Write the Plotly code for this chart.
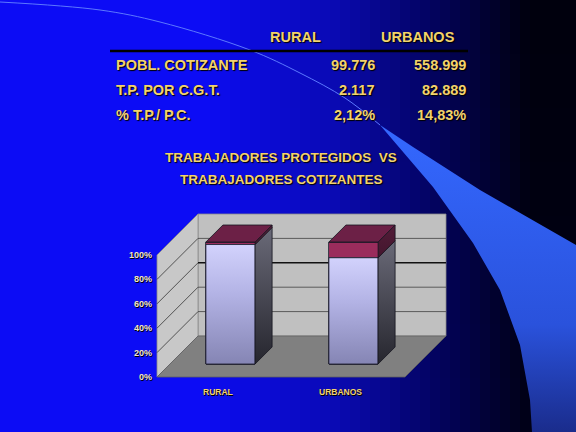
import plotly.graph_objects as go

# ---- data ----
categories = ["RURAL", "URBANOS"]
pobl_cotizante = [99776, 558999]
tp_por_cgt = [2117, 82889]
row_labels = ["POBL. COTIZANTE", "T.P. POR C.G.T.", "% T.P./ P.C."]
pct_ticks = [0, 20, 40, 60, 80, 100]
title_lines = ["TRABAJADORES PROTEGIDOS  VS", "TRABAJADORES COTIZANTES"]

W, H = 576, 432
YELLOW = "#f2d36b"
TICK_COL = "#f3e6c4"

# main axes: x in category units, y in percent (front plane of the bars)
X0PX, UNIT_X = 230.5, 123.0   # px of category 0, px per category
Y0PX, UNIT_Y = 364.0, 1.22    # px of 0 %, px per percent
BAR_W = 0.4
DEPTH = 17        # bar depth (px, drawn at 45 deg)
Z_FRONT, Z_BACK = -13, 28
XL, XR = (170 - X0PX) / UNIT_X, (418 - X0PX) / UNIT_X


def proj(x, y, z):
    return x + z / UNIT_X, y + z / UNIT_Y


def path(pts):
    return "M " + " L ".join(f"{a},{b}" for a, b in pts) + " Z"


def num_es(v):
    return f"{v:,}".replace(",", ".")


def pct_es(v):
    return f"{v:.2f}%".replace(".", ",")


def face(pts, colorscale, edge="#15151f"):
    pts = pts + [pts[0]]
    return go.Scatter(x=[a for a, _ in pts], y=[b for _, b in pts], fill="toself", mode="lines",
                      fillgradient=dict(type="vertical", colorscale=colorscale),
                      line=dict(color=edge, width=0.8), hoverinfo="skip", showlegend=False)


shapes = []

# background gradient (bright blue left -> black right)
def bg_color(x, y):
    d = max(0.0, min(1.0, (x - 200) / 330)) * (1 - 0.03 * y / H)
    stops = [(0, (12, 12, 245)), (0.4, (10, 10, 180)), (0.7, (3, 3, 95)), (1, (0, 0, 12))]
    for (d0, c0), (d1, c1) in zip(stops, stops[1:]):
        if d <= d1:
            t = (d - d0) / (d1 - d0)
            c = [round(a + (b - a) * t) for a, b in zip(c0, c1)]
            return f"rgb({c[0]},{c[1]},{c[2]})"
    return "rgb(0,0,12)"

shapes.append(dict(type="rect", xref="paper", yref="paper", x0=0, x1=210 / W, y0=0, y1=1,
                   fillcolor=bg_color(0, 0), line_width=0, layer="below"))
step_x, step_y = 10, 54
for cx in range(200, W, step_x):
    for cy in range(0, H, step_y):
        shapes.append(dict(type="rect", xref="paper", yref="paper",
                           x0=cx / W, x1=min(W, cx + step_x + 1) / W,
                           y0=1 - min(H, cy + step_y + 1) / H, y1=1 - cy / H,
                           fillcolor=bg_color(cx + step_x / 2, cy + step_y / 2),
                           line_width=0, layer="below"))

# 3d box: back wall, left wall, floor
shapes.append(dict(type="path", xref="x", yref="y", layer="below",
                   path=path([proj(XL, 0, Z_BACK), proj(XR, 0, Z_BACK), proj(XR, 100, Z_BACK), proj(XL, 100, Z_BACK)]),
                   fillcolor="#c0c0c0", line=dict(color="#8a8a8a", width=0.8)))
shapes.append(dict(type="path", xref="x", yref="y", layer="below",
                   path=path([proj(XL, 0, Z_FRONT), proj(XL, 100, Z_FRONT), proj(XL, 100, Z_BACK), proj(XL, 0, Z_BACK)]),
                   fillcolor="#c8c8c8", line=dict(color="#8a8a8a", width=0.8)))
shapes.append(dict(type="path", xref="x", yref="y", layer="below",
                   path=path([proj(XL, 0, Z_FRONT), proj(XR, 0, Z_FRONT), proj(XR, 0, Z_BACK), proj(XL, 0, Z_BACK)]),
                   fillcolor="#808080", line=dict(color="#606060", width=0.8)))
for p in pct_ticks[1:-1]:
    x0, y0 = proj(XL, p, Z_BACK)
    x1, y1 = proj(XR, p, Z_BACK)
    dark = p == 60
    shapes.append(dict(type="line", xref="x", yref="y", layer="below", x0=x0, y0=y0, x1=x1, y1=y1,
                       line=dict(color="#101010" if dark else "#5a5a5a", width=1.6 if dark else 1)))
    fx, fy = proj(XL, p, Z_FRONT)
    shapes.append(dict(type="line", xref="x", yref="y", layer="below", x0=fx, y0=fy, x1=x0, y1=y0,
                       line=dict(color="#202020", width=0.7)))

# table header rule
shapes.append(dict(type="line", xref="paper", yref="paper", x0=110 / W, x1=468 / W,
                   y0=1 - 51 / H, y1=1 - 51 / H, line=dict(color="#000000", width=2.5)))

fig = go.Figure()

# front faces of the 100% stacked columns
fig.add_trace(go.Bar(x=[0, 1], y=pobl_cotizante, width=BAR_W, name="POBL. COTIZANTE",
                     marker=dict(color="#b2b2e2", line=dict(color="#1c1c2c", width=0.8)),
                     hoverinfo="skip"))
fig.add_trace(go.Bar(x=[0, 1], y=tp_por_cgt, width=BAR_W, name="T.P. POR C.G.T.",
                     marker=dict(color="#9a2c5c", line=dict(color="#1c1c2c", width=0.8)),
                     hoverinfo="skip"))

# shading of the front face plus side and top faces, built from the same values
for i, (pc, tp) in enumerate(zip(pobl_cotizante, tp_por_cgt)):
    share_pc = pc / (pc + tp) * 100
    xr = i + BAR_W / 2
    xl = i - BAR_W / 2
    fig.add_trace(face([(xl, 0), (xr, 0), (xr, share_pc), (xl, share_pc)],
                       [[0, "#8585b4"], [0.6, "#b4b4e6"], [1, "#d2d2fc"]], edge="#1c1c2c"))
    fig.add_trace(face([proj(xr, 0, 0), proj(xr, 0, DEPTH), proj(xr, share_pc, DEPTH), proj(xr, share_pc, 0)],
                       [[0, "#26262e"], [1, "#6a6a78"]]))
    fig.add_trace(face([proj(xr, share_pc, 0), proj(xr, share_pc, DEPTH), proj(xr, 100, DEPTH), proj(xr, 100, 0)],
                       [[0, "#44162e"], [1, "#521c38"]]))
    fig.add_trace(face([proj(xl, 100, 0), proj(xr, 100, 0), proj(xr, 100, DEPTH), proj(xl, 100, DEPTH)],
                       [[0, "#6c2046"], [1, "#6c2046"]]))

# decorative swoosh on a pixel overlay axis
swoosh_x = [380, 433, 473, 500, 520, 530, 532, 576, 576, 480, 413, 380]
swoosh_y = [125, 187, 243, 290, 345, 400, 432, 432, 245, 190, 147, 125]
fig.add_trace(go.Scatter(x=swoosh_x, y=swoosh_y, xaxis="x2", yaxis="y2", fill="toself", mode="none",
                         fillgradient=dict(type="vertical",
                                           colorscale=[[0, "#1a2c8c"], [0.35, "#2a52dc"], [1, "#3468ff"]]),
                         hoverinfo="skip", showlegend=False))
fig.add_trace(go.Scatter(x=[0, 100, 160, 250, 300, 345, 380], y=[2, 10, 22, 50, 73, 98, 125],
                         xaxis="x2", yaxis="y2", mode="lines", line=dict(color="#5c78ff", width=1, shape="spline"),
                         hoverinfo="skip", showlegend=False))

ann = []
font_tbl = dict(family="Liberation Sans, Arial", size=14.5, color=YELLOW, weight="bold",
                shadow="1px 1px 1px #000000")

def add_text(text, x, y, xanchor="center", font=font_tbl):
    ann.append(dict(text=text, x=x / W, y=1 - y / H, xref="paper", yref="paper", showarrow=False,
                    xanchor=xanchor, yanchor="middle", font=font))

# table
add_text(categories[0], 295, 37)
add_text(categories[1], 418, 37)
rows = [[num_es(v) for v in pobl_cotizante],
        [num_es(v) for v in tp_por_cgt],
        [pct_es(t / p * 100) for t, p in zip(tp_por_cgt, pobl_cotizante)]]
for k, (lab, vals) in enumerate(zip(row_labels, rows)):
    y = 65 + 25 * k
    add_text(lab, 114, y, "left")
    add_text(vals[0], 377, y, "right")
    add_text(vals[1], 468, y, "right")

# chart title
font_title = dict(font_tbl, size=13.5)
add_text(title_lines[0], 281, 157, font=font_title)
add_text(title_lines[1], 281, 179, font=font_title)

# axis tick labels on the front edge of the box
font_tick = dict(family="Liberation Sans, Arial", size=9, color=TICK_COL, weight="bold",
                 shadow="1px 1px 0px #000000")
for p in pct_ticks:
    tx, ty = proj(XL, p, Z_FRONT)
    ann.append(dict(text=f"{p}%", x=tx, y=ty, xref="x", yref="y", showarrow=False,
                    xanchor="right", yanchor="middle", xshift=-3, font=font_tick))
font_cat = dict(font_tick, color=YELLOW, size=8.5)
for i, c in enumerate(categories):
    cx, cy = proj(i, 0, Z_FRONT)
    ann.append(dict(text=c, x=cx, y=cy, xref="x", yref="y", showarrow=False,
                    xanchor="center", yanchor="top", yshift=-8, font=font_cat))

fig.update_layout(
    width=W, height=H, margin=dict(l=0, r=0, t=0, b=0),
    paper_bgcolor="#0c0cf5", plot_bgcolor="rgba(0,0,0,0)",
    barmode="stack", barnorm="percent", showlegend=False,
    xaxis=dict(range=[-X0PX / UNIT_X, (W - X0PX) / UNIT_X], visible=False, fixedrange=True),
    yaxis=dict(range=[-(H - Y0PX) / UNIT_Y, Y0PX / UNIT_Y], visible=False, fixedrange=True),
    xaxis2=dict(range=[0, W], overlaying="x", anchor="y2", visible=False, fixedrange=True),
    yaxis2=dict(range=[H, 0], overlaying="y", anchor="x2", visible=False, fixedrange=True),
    shapes=shapes, annotations=ann,
)

fig.write_html("out.html", config={"displayModeBar": False},
               post_script="document.body.style.margin='0';")
